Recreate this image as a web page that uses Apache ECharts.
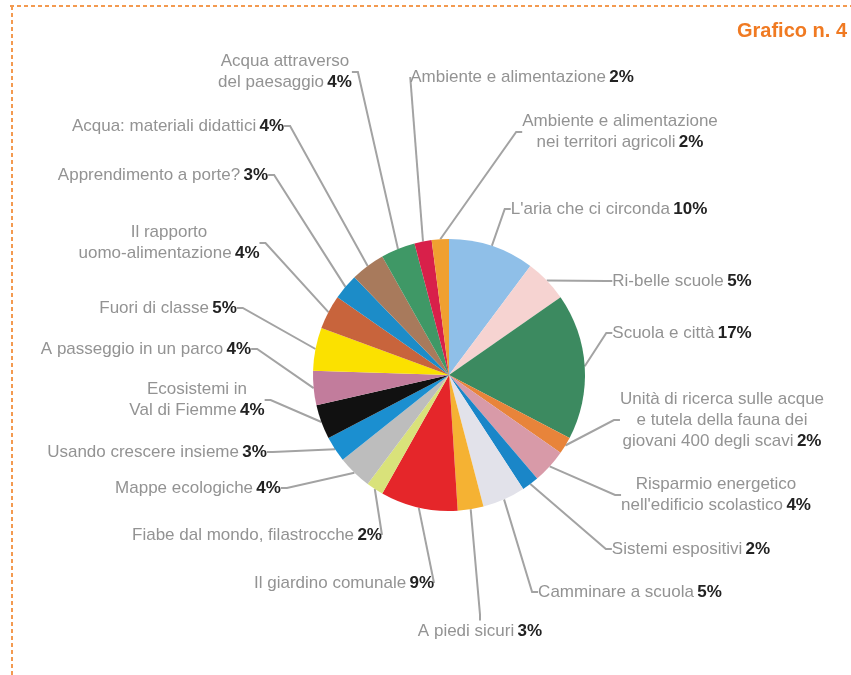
<!DOCTYPE html>
<html>
<head>
<meta charset="utf-8">
<script src="https://cdn.jsdelivr.net/npm/echarts@6/dist/echarts.min.js"></script>
<style>
html,body{margin:0;padding:0;background:#fff;}
#chart{width:851px;height:675px;}
</style>
</head>
<body>
<div id="chart"></div>
<script>
// Data (clockwise from 12 o'clock)
const categories = [
  "L'aria che ci circonda",
  "Ri-belle scuole",
  "Scuola e città",
  "Unità di ricerca sulle acque\ne tutela della fauna dei\ngiovani 400 degli scavi",
  "Risparmio energetico\nnell'edificio scolastico",
  "Sistemi espositivi",
  "Camminare a scuola",
  "A piedi sicuri",
  "Il giardino comunale",
  "Fiabe dal mondo, filastrocche",
  "Mappe ecologiche",
  "Usando crescere insieme",
  "Ecosistemi in\nVal di Fiemme",
  "A passeggio in un parco",
  "Fuori di classe",
  "Il rapporto\nuomo-alimentazione",
  "Apprendimento a porte?",
  "Acqua: materiali didattici",
  "Acqua attraverso\ndel paesaggio",
  "Ambiente e alimentazione",
  "Ambiente e alimentazione\nnei territori agricoli"
];
const percentages = [10, 5, 17, 2, 4, 2, 5, 3, 9, 2, 4, 3, 4, 4, 5, 4, 3, 4, 4, 2, 2];
const sliceColors = [
  '#8fbfe8', '#f6d3d1', '#3c8a60', '#e8843a', '#d89aa8', '#1a86c8', '#e2e2ea',
  '#f5b233', '#e5262a', '#d9e27a', '#bdbdbd', '#1b8fd0', '#111111', '#c27c9c',
  '#fbe100', '#c8643c', '#1c8cc8', '#a87a5c', '#3f9866', '#d8204a', '#f0a030'
];
// label anchor positions (centre of each label box), separate from data
const labelPos = [
  [609, 209], [682, 281], [682, 333], [722, 420], [716, 495], [691, 549],
  [630, 592], [480, 631], [344, 583], [257, 535], [198, 488], [157, 452],
  [197, 400], [146, 349], [168, 308], [169, 243], [163, 175], [178, 126],
  [285, 72], [522, 77], [620, 132]
];

const chart = echarts.init(document.getElementById('chart'), null, {renderer: 'canvas'});

const seriesData = categories.map((c, i) => ({
  name: c,
  value: percentages[i],
  itemStyle: {color: sliceColors[i]}
}));

function fmt(p) {
  const lines = p.name.split('\n');
  const out = lines.map(l => '{n|' + l + '}');
  out[out.length - 1] += ' {p|' + p.value + '%}';
  return out.join('\n');
}

const FONT = '"Liberation Sans", Arial, sans-serif';

chart.setOption({
  animation: false,
  backgroundColor: '#ffffff',
  graphic: [
    {type: 'line', shape: {x1: 10, y1: 6, x2: 851, y2: 6},
     style: {stroke: '#f39a50', lineWidth: 2, lineDash: [4, 3]}},
    {type: 'line', shape: {x1: 12, y1: 6, x2: 12, y2: 675},
     style: {stroke: '#f39a50', lineWidth: 2, lineDash: [4, 3]}},
    {type: 'text', right: 4, top: 21,
     style: {text: 'Grafico n. 4', fill: '#f07a22',
             font: 'bold 20px "Liberation Sans Narrow", "Liberation Sans", Arial, sans-serif'}}
  ],
  series: [{
    type: 'pie',
    center: [449, 375],
    radius: 136,
    startAngle: 90,
    clockwise: true,
    avoidLabelOverlap: false,
    itemStyle: {borderWidth: 0},
    label: {
      show: true,
      position: 'outside',
      formatter: fmt,
      lineHeight: 21,
      rich: {
        n: {color: '#939393', fontSize: 17, fontFamily: FONT, lineHeight: 21},
        p: {color: '#222', fontSize: 17, fontWeight: 'bold', fontFamily: FONT, lineHeight: 21}
      }
    },
    labelLine: {
      show: true,
      length: 10,
      length2: 6,
      lineStyle: {color: '#a3a3a3', width: 2}
    },
    labelLayout: function (params) {
      const p = labelPos[params.dataIndex];
      return {x: p[0], y: p[1], align: 'center', verticalAlign: 'middle'};
    },
    data: seriesData
  }]
});
</script>
</body>
</html>
